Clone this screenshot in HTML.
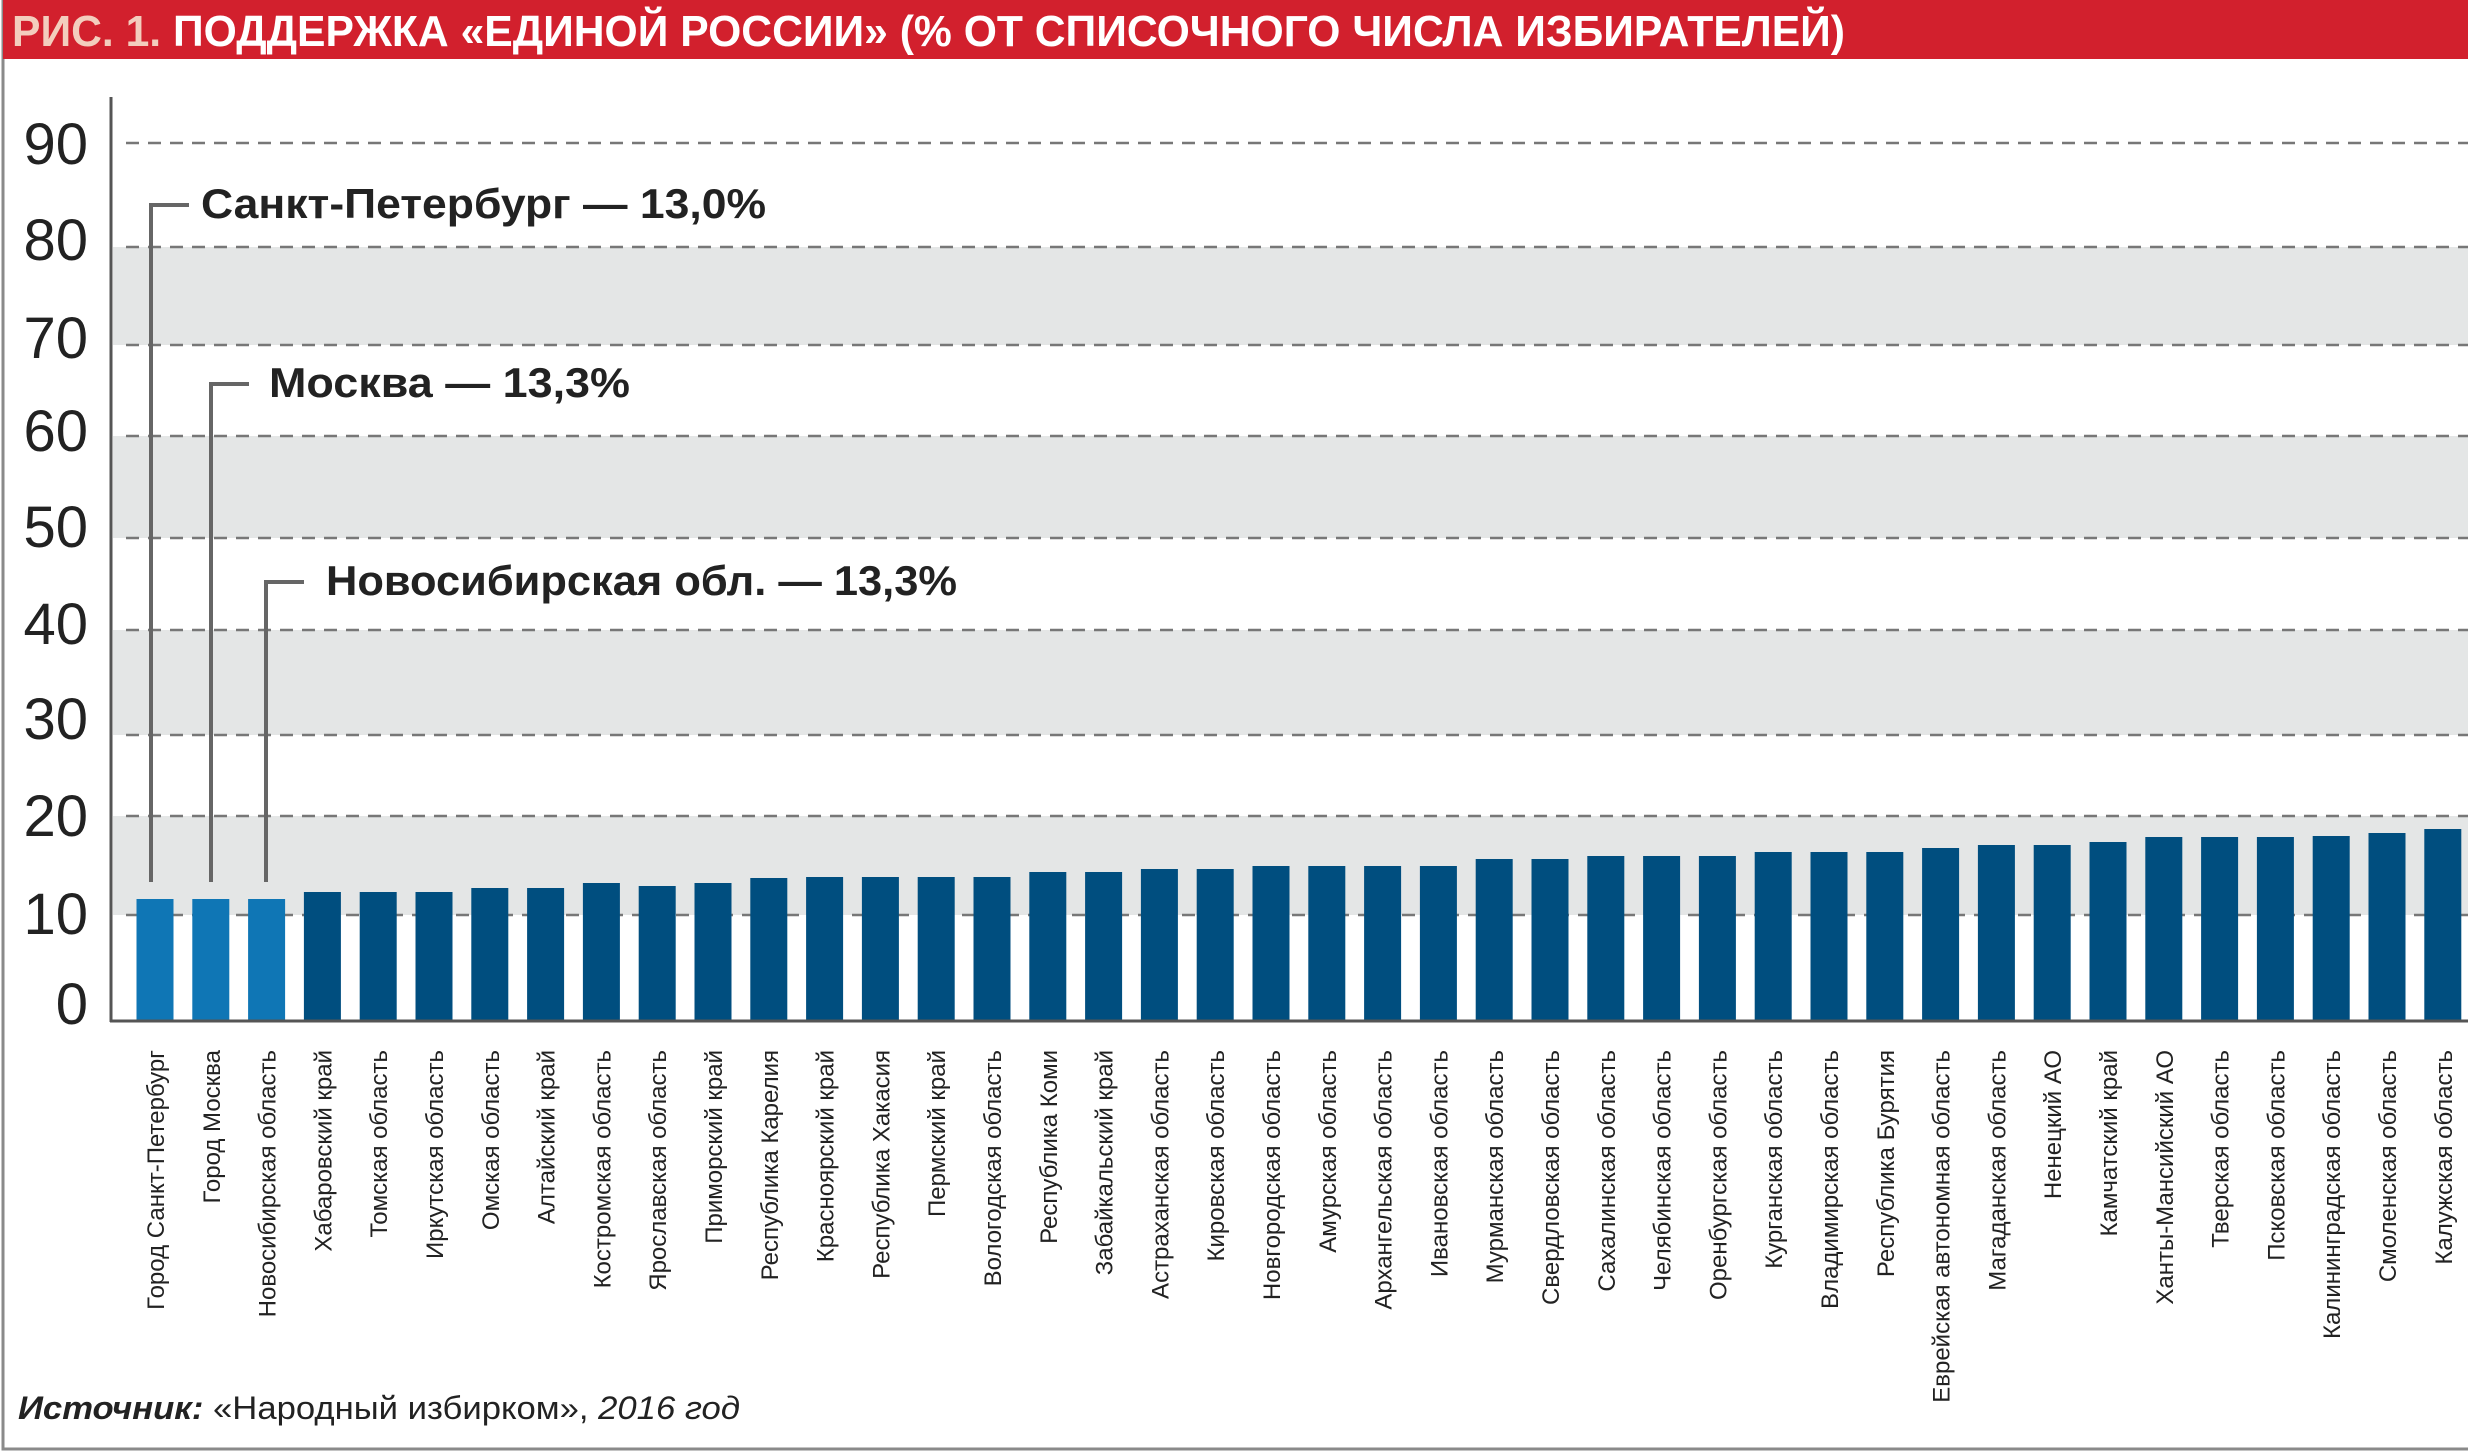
<!DOCTYPE html>
<html><head><meta charset="utf-8"><style>
html,body{margin:0;padding:0;background:#fff;}
svg{display:block;}
</style></head><body>
<svg width="2468" height="1452" viewBox="0 0 2468 1452" xmlns="http://www.w3.org/2000/svg" font-family="'Liberation Sans','Noto Sans CJK SC',sans-serif">
<rect x="0" y="0" width="2468" height="1452" fill="#fff"/>
<rect x="3" y="0" width="2470" height="1449" fill="none" stroke="#8a8a8a" stroke-width="3"/>
<rect x="3" y="0" width="2465" height="59" fill="#d2202d"/>
<text x="12" y="46" font-size="44" font-weight="bold" fill="#fff" textLength="1833" lengthAdjust="spacingAndGlyphs"><tspan fill="#f3cdbd">РИС. 1.</tspan>  ПОДДЕРЖКА «ЕДИНОЙ РОССИИ» (% ОТ СПИСОЧНОГО ЧИСЛА ИЗБИРАТЕЛЕЙ)</text>

<!-- bands -->
<g fill="#e4e6e6">
<rect x="113" y="247" width="2355" height="98"/>
<rect x="113" y="436" width="2355" height="102"/>
<rect x="113" y="630" width="2355" height="105"/>
<rect x="113" y="816" width="2355" height="99"/>
</g>
<g stroke="#777" stroke-width="2.5" stroke-dasharray="13,9">
<line x1="126" y1="143" x2="2468" y2="143"/>
<line x1="126" y1="247" x2="2468" y2="247"/>
<line x1="126" y1="345" x2="2468" y2="345"/>
<line x1="126" y1="436" x2="2468" y2="436"/>
<line x1="126" y1="538" x2="2468" y2="538"/>
<line x1="126" y1="630" x2="2468" y2="630"/>
<line x1="126" y1="735" x2="2468" y2="735"/>
<line x1="126" y1="816" x2="2468" y2="816"/>
<line x1="126" y1="915" x2="2468" y2="915"/>
</g>
<g font-size="58" fill="#222" text-anchor="end">
<text x="88" y="164">90</text>
<text x="88" y="260">80</text>
<text x="88" y="358">70</text>
<text x="88" y="451">60</text>
<text x="88" y="547">50</text>
<text x="88" y="644">40</text>
<text x="88" y="739">30</text>
<text x="88" y="836">20</text>
<text x="88" y="934">10</text>
<text x="88" y="1024">0</text>
</g>

<!-- bars -->
<g fill="#0f76b5">
<rect x="136.5" y="899" width="37" height="122"/>
<rect x="192.3" y="899" width="37" height="122"/>
<rect x="248.1" y="899" width="37" height="122"/>
</g>
<g fill="#004e7f">
<rect x="303.9" y="892" width="37" height="129"/>
<rect x="359.7" y="892" width="37" height="129"/>
<rect x="415.5" y="892" width="37" height="129"/>
<rect x="471.3" y="888" width="37" height="133"/>
<rect x="527.1" y="888" width="37" height="133"/>
<rect x="582.9" y="883" width="37" height="138"/>
<rect x="638.7" y="886" width="37" height="135"/>
<rect x="694.5" y="883" width="37" height="138"/>
<rect x="750.3" y="878" width="37" height="143"/>
<rect x="806.1" y="877" width="37" height="144"/>
<rect x="861.9" y="877" width="37" height="144"/>
<rect x="917.7" y="877" width="37" height="144"/>
<rect x="973.5" y="877" width="37" height="144"/>
<rect x="1029.3" y="872" width="37" height="149"/>
<rect x="1085.1" y="872" width="37" height="149"/>
<rect x="1140.9" y="869" width="37" height="152"/>
<rect x="1196.7" y="869" width="37" height="152"/>
<rect x="1252.5" y="866" width="37" height="155"/>
<rect x="1308.3" y="866" width="37" height="155"/>
<rect x="1364.1" y="866" width="37" height="155"/>
<rect x="1419.9" y="866" width="37" height="155"/>
<rect x="1475.7" y="859" width="37" height="162"/>
<rect x="1531.5" y="859" width="37" height="162"/>
<rect x="1587.3" y="856" width="37" height="165"/>
<rect x="1643.1" y="856" width="37" height="165"/>
<rect x="1698.9" y="856" width="37" height="165"/>
<rect x="1754.7" y="852" width="37" height="169"/>
<rect x="1810.5" y="852" width="37" height="169"/>
<rect x="1866.3" y="852" width="37" height="169"/>
<rect x="1922.1" y="848" width="37" height="173"/>
<rect x="1977.9" y="845" width="37" height="176"/>
<rect x="2033.7" y="845" width="37" height="176"/>
<rect x="2089.5" y="842" width="37" height="179"/>
<rect x="2145.3" y="837" width="37" height="184"/>
<rect x="2201.1" y="837" width="37" height="184"/>
<rect x="2256.9" y="837" width="37" height="184"/>
<rect x="2312.7" y="836" width="37" height="185"/>
<rect x="2368.5" y="833" width="37" height="188"/>
<rect x="2424.3" y="829" width="37" height="192"/>
</g>

<!-- axes -->
<line x1="111" y1="97" x2="111" y2="1022" stroke="#555" stroke-width="3"/>
<line x1="110" y1="1021" x2="2468" y2="1021" stroke="#555" stroke-width="3"/>

<!-- callouts -->
<g stroke="#666" stroke-width="4" fill="none">
<polyline points="189,205 151,205 151,882"/>
<polyline points="249,384 211,384 211,882"/>
<polyline points="304,582 266,582 266,882"/>
</g>
<g font-size="42" font-weight="bold" fill="#222">
<text x="201" y="218" textLength="565" lengthAdjust="spacingAndGlyphs">Санкт-Петербург — 13,0%</text>
<text x="269" y="397" textLength="361" lengthAdjust="spacingAndGlyphs">Москва — 13,3%</text>
<text x="326" y="595" textLength="631" lengthAdjust="spacingAndGlyphs">Новосибирская обл. — 13,3%</text>
</g>

<!-- x labels -->
<g font-size="24" fill="#222" text-anchor="end">
<text transform="translate(164,1050) rotate(-90)">Город Санкт-Петербург</text>
<text transform="translate(219.8,1050) rotate(-90)">Город Москва</text>
<text transform="translate(275.6,1050) rotate(-90)">Новосибирская область</text>
<text transform="translate(331.4,1050) rotate(-90)">Хабаровский край</text>
<text transform="translate(387.2,1050) rotate(-90)">Томская область</text>
<text transform="translate(443,1050) rotate(-90)">Иркутская область</text>
<text transform="translate(498.8,1050) rotate(-90)">Омская область</text>
<text transform="translate(554.6,1050) rotate(-90)">Алтайский край</text>
<text transform="translate(610.4,1050) rotate(-90)">Костромская область</text>
<text transform="translate(666.2,1050) rotate(-90)">Ярославская область</text>
<text transform="translate(722,1050) rotate(-90)">Приморский край</text>
<text transform="translate(777.8,1050) rotate(-90)">Республика Карелия</text>
<text transform="translate(833.6,1050) rotate(-90)">Красноярский край</text>
<text transform="translate(889.4,1050) rotate(-90)">Республика Хакасия</text>
<text transform="translate(945.2,1050) rotate(-90)">Пермский край</text>
<text transform="translate(1001,1050) rotate(-90)">Вологодская область</text>
<text transform="translate(1056.8,1050) rotate(-90)">Республика Коми</text>
<text transform="translate(1112.6,1050) rotate(-90)">Забайкальский край</text>
<text transform="translate(1168.4,1050) rotate(-90)">Астраханская область</text>
<text transform="translate(1224.2,1050) rotate(-90)">Кировская область</text>
<text transform="translate(1280,1050) rotate(-90)">Новгородская область</text>
<text transform="translate(1335.8,1050) rotate(-90)">Амурская область</text>
<text transform="translate(1391.6,1050) rotate(-90)">Архангельская область</text>
<text transform="translate(1447.4,1050) rotate(-90)">Ивановская область</text>
<text transform="translate(1503.2,1050) rotate(-90)">Мурманская область</text>
<text transform="translate(1559,1050) rotate(-90)">Свердловская область</text>
<text transform="translate(1614.8,1050) rotate(-90)">Сахалинская область</text>
<text transform="translate(1670.6,1050) rotate(-90)">Челябинская область</text>
<text transform="translate(1726.4,1050) rotate(-90)">Оренбургская область</text>
<text transform="translate(1782.2,1050) rotate(-90)">Курганская область</text>
<text transform="translate(1838,1050) rotate(-90)">Владимирская область</text>
<text transform="translate(1893.8,1050) rotate(-90)">Республика Бурятия</text>
<text transform="translate(1949.6,1050) rotate(-90)">Еврейская автономная область</text>
<text transform="translate(2005.4,1050) rotate(-90)">Магаданская область</text>
<text transform="translate(2061.2,1050) rotate(-90)">Ненецкий АО</text>
<text transform="translate(2117,1050) rotate(-90)">Камчатский край</text>
<text transform="translate(2172.8,1050) rotate(-90)">Ханты-Мансийский АО</text>
<text transform="translate(2228.6,1050) rotate(-90)">Тверская область</text>
<text transform="translate(2284.4,1050) rotate(-90)">Псковская область</text>
<text transform="translate(2340.2,1050) rotate(-90)">Калининградская область</text>
<text transform="translate(2396,1050) rotate(-90)">Смоленская область</text>
<text transform="translate(2451.8,1050) rotate(-90)">Калужская область</text>
</g>

<text x="18" y="1419" font-size="32" fill="#222" textLength="722" lengthAdjust="spacingAndGlyphs"><tspan font-weight="bold" font-style="italic">Источник:</tspan> «Народный избирком», <tspan font-style="italic">2016 год</tspan></text>
</svg>
</body></html>
